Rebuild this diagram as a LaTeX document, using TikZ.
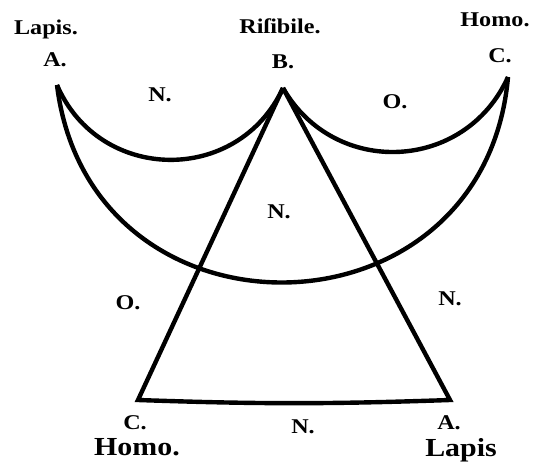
\documentclass[tikz,border=0pt]{standalone}
\usepackage{fontspec}
\usepackage{tikz}
\usetikzlibrary{positioning}
\newfontfamily\oldface[FakeStretch=1.15]{Liberation Serif}

\begin{document}
\begin{tikzpicture}[
  x=1pt,y=-1pt,
  every node/.style={font=\oldface\bfseries\fontsize{21}{21}\selectfont,inner sep=0pt,align=center},
  big/.style={font=\oldface\bfseries\fontsize{26}{26}\selectfont},
  stroke/.style={line width=4.4pt,color=black}
]
\useasboundingbox (0,0) rectangle (544,465);
% corners of the figure
\coordinate (a) at (57,85);
\coordinate (b) at (283,88);
\coordinate (c) at (508,77);
\coordinate (cb) at (138,400);
\coordinate (ab) at (450,400);
% the three arcs
\draw[stroke] (a) to[bend right=66,looseness=1.21] (b);
\draw[stroke] (b) to[bend right=63,looseness=1.18] (c);
\draw[stroke] (a) to[bend right=84,looseness=1.53] (c);
% the triangle
\draw[stroke] (b) -- (cb) to[bend right=2] (ab) -- (b);
% top labels
\node (lapis) at (46,29) {Lapis.};
\node (risibile) at (280,26) {Riſibile.};
\node (homo) at (495,20) {Homo.};
\node (la) at (55,60) {A.};
\node (lb) at (283,62) {B.};
\node (lc) at (500,56) {C.};
% inner labels
\node (nab) at (160,95) {N.};
\node (obc) at (395,102) {O.};
\node (nmid) at (279,212) {N.};
\node (oleft) at (128,303) {O.};
\node (nright) at (450,299) {N.};
% bottom labels
\node (lcb) at (135,423) {C.};
\node (nbot) at (303,427) {N.};
\node (lab) at (449,423) {A.};
\node[big] (homob) at (137,447) {Homo.};
\node[big] (lapisb) at (461,450) {Lapis};
\end{tikzpicture}
\end{document}
